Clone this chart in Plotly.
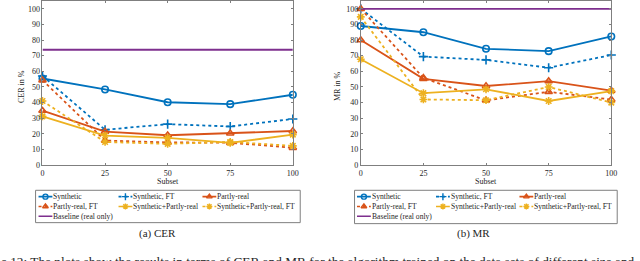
import plotly.graph_objects as go

W, H = 640, 261

subsets = [0, 25, 50, 75, 100]
x_ticks = [0, 25, 50, 75, 100]
y_ticks = [0, 10, 20, 30, 40, 50, 60, 70, 80, 90, 100]

names = ["Synthetic", "Synthetic, FT", "Partly-real", "Partly-real, FT",
         "Synthetic+Partly-real", "Synthetic+Partly-real, FT", "Baseline (real only)"]

# CER in %
cer_synthetic = [55.4, 48.4, 40.2, 39.0, 45.0]
cer_synthetic_ft = [57.0, 22.6, 26.2, 24.7, 29.5]
cer_partly_real = [34.8, 21.4, 19.1, 20.3, 21.8]
cer_partly_real_ft = [54.3, 15.7, 14.5, 14.3, 11.1]
cer_syn_partly = [31.2, 18.9, 17.4, 14.2, 19.5]
cer_syn_partly_ft = [41.0, 14.8, 13.6, 14.8, 12.3]
cer_baseline = 73.8

# MR in %
mr_synthetic = [89.0, 85.0, 74.4, 72.9, 82.3]
mr_synthetic_ft = [100.0, 69.4, 67.3, 62.3, 70.4]
mr_partly_real = [80.0, 55.2, 50.6, 53.7, 47.7]
mr_partly_real_ft = [100.0, 55.8, 41.4, 46.9, 41.9]
mr_syn_partly = [67.7, 46.0, 48.5, 41.0, 47.3]
mr_syn_partly_ft = [94.8, 42.0, 41.5, 50.0, 40.0]
mr_baseline = 100.0

BLUE, ORANGE, YELLOW, PURPLE = "#0072BD", "#D95319", "#EDB120", "#7E2F8E"
styles = [
    dict(color=BLUE, dash="solid", symbol="circle-open"),
    dict(color=BLUE, dash="dot", symbol="cross-thin-open"),
    dict(color=ORANGE, dash="solid", symbol="triangle-up-open"),
    dict(color=ORANGE, dash="dot", symbol="triangle-up-open"),
    dict(color=YELLOW, dash="solid", symbol="asterisk-open"),
    dict(color=YELLOW, dash="dot", symbol="asterisk-open"),
    dict(color=PURPLE, dash="solid", symbol=None),
]

FONT = "Liberation Serif"
TXT = "#262626"
AX = "#7f7f7f"

def px(x):
    return x / W

def py(y):
    return 1 - y / H

fig = go.Figure()

panels = [
    ("x", "y", [cer_synthetic, cer_synthetic_ft, cer_partly_real, cer_partly_real_ft,
                cer_syn_partly, cer_syn_partly_ft], cer_baseline),
    ("x2", "y2", [mr_synthetic, mr_synthetic_ft, mr_partly_real, mr_partly_real_ft,
                  mr_syn_partly, mr_syn_partly_ft], mr_baseline),
]

for xa, ya, series, base in panels:
    for name, vals, st in zip(names[:6], series, styles[:6]):
        fig.add_trace(go.Scatter(
            x=subsets, y=vals, xaxis=xa, yaxis=ya, name=name, mode="lines+markers",
            line=dict(color=st["color"], dash=st["dash"], width=1.8),
            marker=dict(symbol=st["symbol"], size=6.5, color=st["color"],
                        line=dict(color=st["color"], width=1.6)),
            showlegend=False, cliponaxis=False))
    fig.add_trace(go.Scatter(
        x=[subsets[0], subsets[-1]], y=[base, base], xaxis=xa, yaxis=ya,
        name=names[6], mode="lines", line=dict(color=PURPLE, width=1.8),
        showlegend=False, cliponaxis=False))

axis_common = dict(
    showgrid=False, zeroline=False, showline=True, linecolor=AX, linewidth=1,
    mirror="ticks", ticks="inside", ticklen=2, tickcolor=AX,
    tickfont=dict(family=FONT, size=8, color=TXT),
)

LEG_TOP, LEG_BOT = 190, 231

fig.update_layout(
    width=W, height=H, autosize=False,
    margin=dict(l=0, r=0, t=0, b=0),
    paper_bgcolor="white", plot_bgcolor="rgba(0,0,0,0)",
    font=dict(family=FONT, color=TXT),
    xaxis=dict(domain=[px(41), px(294.5)], range=[0, 100], tickvals=x_ticks,
               anchor="y", **axis_common),
    yaxis=dict(domain=[py(168.3), py(1)], range=[0, 105], tickvals=y_ticks,
               anchor="x", **axis_common),
    xaxis2=dict(domain=[px(363.3), px(617)], range=[0, 100], tickvals=x_ticks,
                anchor="y2", **axis_common),
    yaxis2=dict(domain=[py(168.3), py(1)], range=[0, 105], tickvals=y_ticks,
                anchor="x2", **axis_common),
    xaxis3=dict(domain=[0, 1], range=[0, W], visible=False, anchor="y3", fixedrange=True),
    yaxis3=dict(domain=[py(LEG_BOT), py(LEG_TOP)], range=[LEG_BOT, LEG_TOP],
                visible=False, anchor="x3", fixedrange=True),
    showlegend=False,
)

annotations = []
shapes = []

def text(x, y, s, size=8, xanchor="center", yanchor="middle", angle=0, pad=0):
    annotations.append(dict(x=px(x), y=py(y), xref="paper", yref="paper", text=s,
                            showarrow=False, xanchor=xanchor, yanchor=yanchor,
                            textangle=angle, borderpad=pad, borderwidth=0,
                            font=dict(family=FONT, size=size, color=TXT)))

# axis titles
text(20, 88, "CER in %", 8, angle=-90)
text(340, 88, "MR in %", 8, angle=-90)
text(168, 185, "Subset", 8)
text(490, 185, "Subset", 8)

# captions
text(157, 238, "(a) CER", 11)
text(477, 238, "(b) MR", 11)
text(-1, 259, "e 12: The plots show the results in terms of CER and MR for the algorithm "
     "trained on the data sets of different size and", 13.3, xanchor="left", yanchor="top")

# manual legends
legend_specs = [
    dict(box=(34, 194, 302, 227), cols=(37, 118, 203)),
    dict(box=(357, 194, 623, 228), cols=(359.5, 439.5, 524)),
]
rows = (200.5, 210.5, 220.5)
for spec in legend_specs:
    x0, y0, x1, y1 = spec["box"]
    shapes.append(dict(type="rect", xref="paper", yref="paper",
                       x0=px(x0), x1=px(x1), y0=py(y1), y1=py(y0),
                       line=dict(color=AX, width=1), fillcolor="white", layer="below"))
    for i, (name, st) in enumerate(zip(names, styles)):
        r, c = divmod(i, 3)
        sx = spec["cols"][c]
        sy = rows[r]
        seg_x = [sx, sx + 7, sx + 14]
        fig.add_trace(go.Scatter(
            x=seg_x, y=[sy] * 3, xaxis="x3", yaxis="y3", mode="lines",
            line=dict(color=st["color"], dash=st["dash"], width=1.6),
            showlegend=False, hoverinfo="skip", cliponaxis=False))
        if st["symbol"]:
            fig.add_trace(go.Scatter(
                x=[sx + 7], y=[sy], xaxis="x3", yaxis="y3", mode="markers",
                marker=dict(symbol=st["symbol"], size=5, color=st["color"],
                            line=dict(color=st["color"], width=1.4)),
                showlegend=False, hoverinfo="skip", cliponaxis=False))
        text(sx + 15, sy, name, 7.6, xanchor="left")

fig.update_layout(annotations=annotations, shapes=shapes)
fig.write_html(
    "out.html",
    config={"displayModeBar": False},
    post_script="document.body.style.margin='0';document.body.style.overflow='hidden';",
)
